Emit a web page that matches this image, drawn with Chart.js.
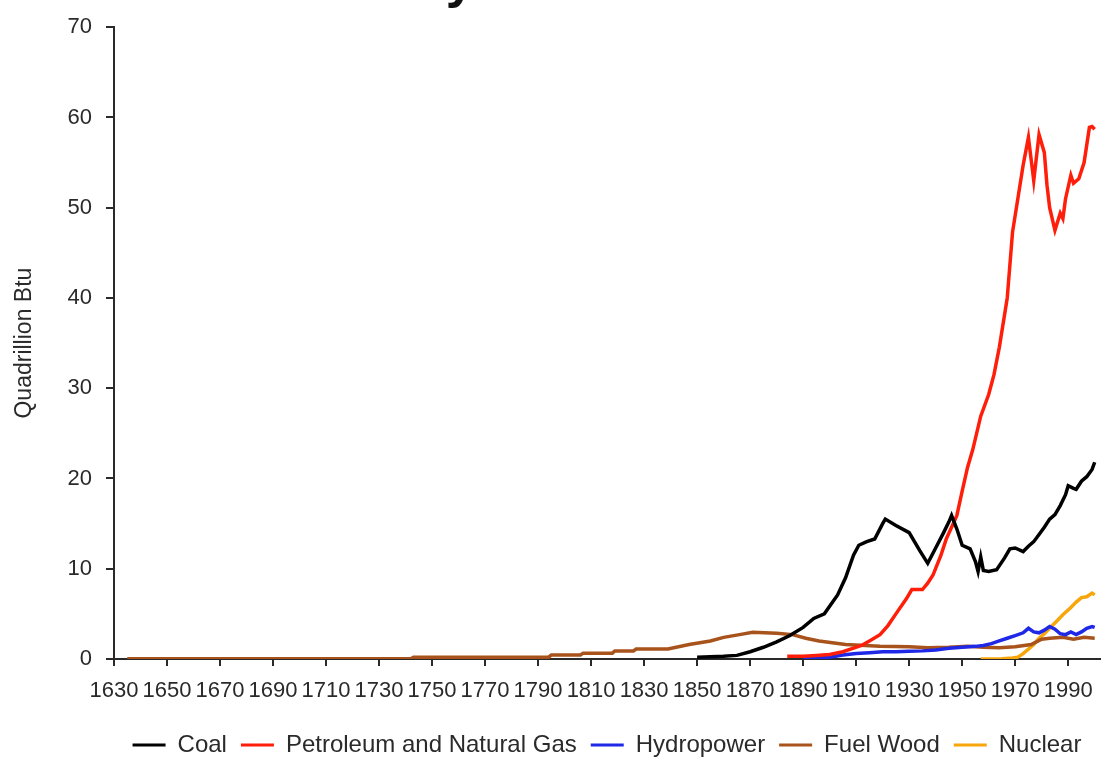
<!DOCTYPE html>
<html>
<head>
<meta charset="utf-8">
<script src="https://cdn.jsdelivr.net/npm/chart.js@4.4.1/dist/chart.umd.min.js"></script>
<style>
  html, body { margin: 0; padding: 0; background: #fff; }
  #wrap { width: 1109px; height: 767px; }
</style>
</head>
<body>
<div id="wrap"><canvas id="chart" width="1109" height="767"></canvas></div>
<script>
// ------------------- DATA -------------------
const yearTicks = [1630, 1650, 1670, 1690, 1710, 1730, 1750, 1770, 1790, 1810,
                   1830, 1850, 1870, 1890, 1910, 1930, 1950, 1970, 1990];

const coalYears = [1850, 1855, 1860, 1865, 1870, 1875, 1880, 1885, 1890, 1894, 1898, 1903, 1906, 1909,
                   1911, 1914, 1917, 1920, 1921, 1925, 1930, 1934, 1937, 1940, 1943, 1945, 1946, 1948,
                   1950, 1953, 1955, 1956, 1957, 1958, 1960, 1963, 1966, 1968, 1970, 1973, 1975, 1977,
                   1979, 1981, 1983, 1985, 1987, 1989, 1990, 1992, 1993, 1995, 1997, 1999, 2000];
const coalValues = [0.2, 0.25, 0.3, 0.4, 0.8, 1.3, 1.9, 2.6, 3.5, 4.5, 5.0, 7.1, 9.0, 11.5,
                    12.6, 13.0, 13.3, 15.0, 15.5, 14.8, 14.0, 12.0, 10.6, 12.3, 14.0, 15.2, 15.9, 14.4,
                    12.6, 12.2, 10.8, 9.7, 11.3, 9.8, 9.7, 9.9, 11.2, 12.2, 12.3, 11.9, 12.5, 13.0,
                    13.8, 14.6, 15.5, 16.0, 17.0, 18.2, 19.2, 18.9, 18.8, 19.7, 20.2, 21.0, 21.8];

const petroYears = [1884, 1890, 1895, 1900, 1905, 1909, 1912, 1915, 1919, 1922, 1925, 1929, 1931, 1935,
                    1937, 1939, 1942, 1944, 1946, 1948, 1950, 1952, 1954, 1957, 1960, 1962, 1964, 1967,
                    1969, 1971, 1973, 1975, 1977, 1979, 1981, 1982, 1983, 1985, 1987, 1988, 1989, 1991,
                    1992, 1994, 1996, 1998, 1999, 2000];
const petroValues = [0.3, 0.3, 0.4, 0.5, 0.8, 1.2, 1.5, 2.0, 2.7, 3.7, 5.0, 6.7, 7.7, 7.7,
                     8.4, 9.3, 11.5, 13.3, 14.6, 15.9, 18.6, 21.2, 23.2, 26.9, 29.3, 31.5, 34.5, 40.0,
                     47.3, 51.0, 54.7, 57.8, 53.0, 58.1, 56.1, 52.5, 50.0, 47.5, 49.4, 48.8, 51.0, 53.6,
                     52.7, 53.2, 55.0, 58.9, 59.0, 58.7];

const hydroYears = [1890, 1895, 1900, 1905, 1910, 1915, 1920, 1925, 1930, 1935, 1940, 1945, 1950, 1955,
                    1958, 1961, 1964, 1967, 1970, 1973, 1975, 1977, 1979, 1981, 1983, 1985, 1987, 1989,
                    1991, 1993, 1995, 1997, 1999, 2000];
const hydroValues = [0.05, 0.1, 0.2, 0.45, 0.6, 0.7, 0.8, 0.8, 0.85, 0.9, 1.0, 1.2, 1.3, 1.4,
                     1.5, 1.7, 2.0, 2.3, 2.6, 2.9, 3.4, 3.0, 2.9, 3.2, 3.6, 3.3, 2.8, 2.7,
                     3.0, 2.7, 3.0, 3.4, 3.6, 3.5];

const woodYears = [1635, 1742, 1743, 1794, 1795, 1806, 1807, 1818, 1819, 1826, 1827, 1839, 1847, 1855,
                   1860, 1866, 1871, 1880, 1886, 1891, 1896, 1906, 1919, 1930, 1937, 1945, 1952, 1958,
                   1964, 1970, 1976, 1980, 1983, 1988, 1992, 1996, 2000];
const woodValues = [0.03, 0.03, 0.2, 0.2, 0.45, 0.45, 0.65, 0.65, 0.9, 0.9, 1.1, 1.1, 1.6, 2.0,
                    2.4, 2.7, 2.95, 2.85, 2.7, 2.3, 2.0, 1.6, 1.4, 1.35, 1.25, 1.3, 1.4, 1.3,
                    1.24, 1.35, 1.6, 2.2, 2.3, 2.4, 2.2, 2.4, 2.3];

const nuclearYears = [1957, 1965, 1969, 1971, 1973, 1975, 1977, 1979, 1981, 1983, 1986, 1988, 1991,
                      1993, 1995, 1997, 1999, 2000];
const nuclearValues = [0.0, 0.03, 0.1, 0.2, 0.6, 1.1, 1.6, 2.3, 2.8, 3.4, 4.3, 4.9, 5.7,
                       6.3, 6.8, 6.9, 7.3, 7.1];

// ------------------- HELPERS -------------------
const FONT = "'Liberation Sans', Arial, sans-serif";
const INK = "#2a2a2a";

function points(years, values) {
    return years.map((y, i) => ({ x: y, y: values[i] }));
}

function series(label, years, values, color) {
    return {
        label: label,
        data: points(years, values),
        borderColor: color,
        backgroundColor: color,
        borderWidth: 3.5,
        pointRadius: 0,
        tension: 0,
        fill: false
    };
}

// title is mostly cut off at the top edge of the picture
const topTitle = {
    id: "topTitle",
    afterDraw(chart) {
        const ctx = chart.ctx;
        ctx.save();
        ctx.font = "bold 52px " + FONT;
        ctx.fillStyle = "#111";
        ctx.textAlign = "center";
        ctx.textBaseline = "alphabetic";
        ctx.fillText("by Resource", 570, -3);
        ctx.restore();
    }
};

// ------------------- CHART -------------------
const ctx = document.getElementById("chart");

new Chart(ctx, {
    type: "line",
    data: {
        datasets: [
            series("Coal", coalYears, coalValues, "#000000"),
            series("Petroleum and Natural Gas", petroYears, petroValues, "#ff1e0a"),
            series("Hydropower", hydroYears, hydroValues, "#1e28e6"),
            series("Fuel Wood", woodYears, woodValues, "#a8521c"),
            series("Nuclear", nuclearYears, nuclearValues, "#f7a60c")
        ]
    },
    options: {
        responsive: false,
        animation: false,
        layout: { padding: { top: 20, right: 9, left: 0, bottom: 0 } },
        plugins: {
            title: { display: false },
            tooltip: { enabled: false },
            legend: {
                position: "bottom",
                fullSize: false,
                labels: {
                    boxWidth: 33,
                    boxHeight: 3,
                    padding: 14,
                    color: INK,
                    font: { family: FONT, size: 24 },
                    generateLabels(chart) {
                        const items = Chart.defaults.plugins.legend.labels.generateLabels(chart);
                        items.forEach(it => { it.lineWidth = 0; });
                        return items;
                    }
                }
            }
        },
        scales: {
            x: {
                type: "linear",
                min: 1630,
                max: 2002,
                afterBuildTicks(axis) {
                    axis.ticks = yearTicks.map(v => ({ value: v }));
                },
                afterFit(scale) { scale.height = 60; },
                ticks: {
                    autoSkip: false,
                    maxRotation: 0,
                    color: INK,
                    padding: 12,
                    font: { family: FONT, size: 22 },
                    callback: v => String(v)
                },
                grid: { drawOnChartArea: false, tickLength: 7, color: INK, lineWidth: 2 },
                border: { color: INK, width: 2 }
            },
            y: {
                min: 0,
                max: 70,
                afterFit(scale) { scale.width = 114; },
                ticks: {
                    stepSize: 10,
                    color: INK,
                    padding: 14,
                    font: { family: FONT, size: 22 }
                },
                grid: { drawOnChartArea: false, tickLength: 8, color: INK, lineWidth: 2 },
                border: { color: INK, width: 2 },
                title: {
                    display: true,
                    text: "Quadrillion Btu",
                    color: INK,
                    padding: { top: 11, bottom: 0 },
                    font: { family: FONT, size: 23 }
                }
            }
        }
    },
    plugins: [topTitle]
});
</script>
</body>
</html>
